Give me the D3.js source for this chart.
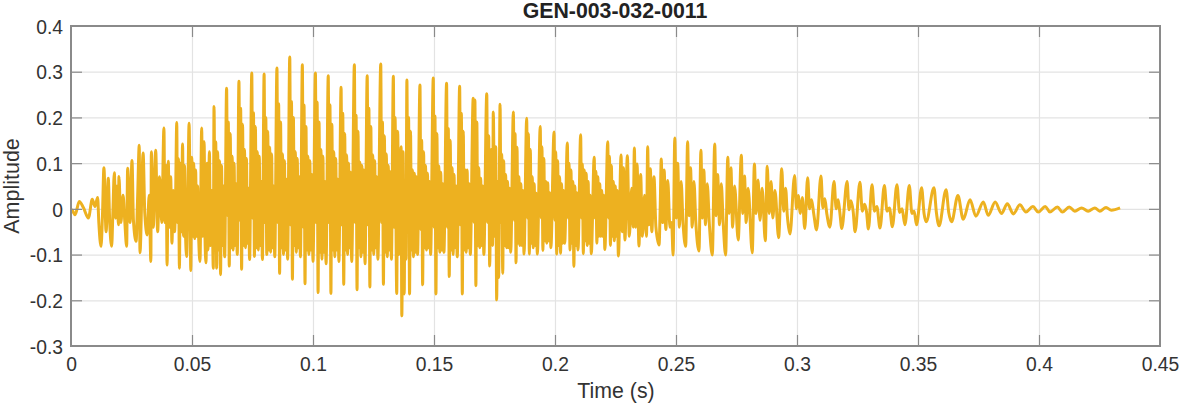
<!DOCTYPE html>
<html><head><meta charset="utf-8">
<style>html,body{margin:0;background:#fff}svg{display:block}text{font-family:"Liberation Sans",Arial,sans-serif}</style>
<script src="https://cdn.jsdelivr.net/npm/d3@7"></script></head><body>
<svg id="c" width="1182" height="404"></svg>
<script>
const chartTitle = "GEN-003-032-0011";
const xTitle = "Time (s)";
const yTitle = "Amplitude";
const xTickValues = [0,0.05,0.1,0.15,0.2,0.25,0.3,0.35,0.4,0.45];
const xTickLabels = ["0","0.05","0.1","0.15","0.2","0.25","0.3","0.35","0.4","0.45"];
const yTickValues = [-0.3,-0.2,-0.1,0,0.1,0.2,0.3,0.4];
const yTickLabels = ["-0.3","-0.2","-0.1","0","0.1","0.2","0.3","0.4"];
// One row per glottal pulse: times in ms
const timeMs = [
[0,0.6,1.7,3.4,5.1,7.2,8.8,9.9,11.0,11.5,12.4,13.0],
[13.6,14.5,15.4,16.0,16.8,17.3],
[17.9,18.5,19.0,19.6,19.8,20.6,21.5,22.2,23.0],
[23.4,24.4,25.2,25.8,26.9,27.5],
[28.2,28.5,29.8,30.5,31.5,32.3],
[33.0,33.2,34.0,35.0,35.8,36.6,37.5],
[38.4,38.8,39.3,39.7,40.2,40.7,41.2,41.7,42.3,42.8,43.2],
[43.7,44.0,44.4,44.8,45.2,45.6,46.1,46.5,46.9,47.3,47.8,48.3],
[48.8,49.2,49.5,49.9,50.3,50.7,51.1,51.5,51.9,52.3,52.8,53.3],
[54.0,54.4,55.0,55.4,55.8,56.2,56.6,57.2,57.6,58.2,58.8],
[59.1,59.5,59.8,60.2,60.6,61.0,61.4,61.8,62.2,62.6,63.0,63.5],
[64.3,64.7,65.0,65.4,65.8,66.2,66.6,67.0,67.4,67.8,68.2,68.7],
[69.4,69.8,70.1,70.5,70.9,71.3,71.7,72.1,72.5,72.9,73.3,73.8],
[74.7,75.1,75.4,75.8,76.2,76.6,77.0,77.4,77.8,78.2,78.6,79.1],
[79.8,80.2,80.5,80.9,81.3,81.7,82.1,82.5,82.9,83.3,83.7,84.2],
[85.1,85.5,85.8,86.2,86.6,87.0,87.4,87.8,88.2,88.6,89.0,89.5],
[90.4,90.8,91.1,91.5,91.9,92.3,92.7,93.1,93.5,93.9,94.3,94.8],
[95.6,96.0,96.3,96.7,97.1,97.5,97.9,98.3,98.7,99.1,99.5,100.0],
[101.0,101.4,101.7,102.1,102.5,102.9,103.3,103.7,104.1,104.5,104.9,105.4],
[106.3,106.7,107.0,107.4,107.8,108.2,108.6,109.0,109.4,109.8,110.2,110.7],
[111.6,112.0,112.3,112.7,113.1,113.5,113.9,114.3,114.7,115.1,115.5,116.0],
[117.1,117.5,117.8,118.2,118.6,119.0,119.4,119.8,120.2,120.6,121.0,121.5],
[122.4,122.8,123.1,123.5,123.9,124.3,124.7,125.1,125.5,125.9,126.3,126.8],
[128.0,128.4,128.7,129.1,129.5,129.9,130.3,130.7,131.1,131.5,131.9,132.4],
[133.2,133.6,133.9,134.6,135.0,135.5,136.4,136.7,137.2,137.7,138.0,138.4],
[138.8,139.2,139.5,139.9,140.3,140.7,141.1,141.5,141.9,142.3,142.7,143.2],
[144.2,144.6,144.9,145.3,145.7,146.1,146.5,146.9,147.3,147.7,148.1,148.6],
[149.7,150.1,150.4,150.8,151.2,151.6,152.0,152.4,152.8,153.2,153.6,154.1],
[155.2,155.6,155.9,156.3,156.7,157.1,157.5,157.9,158.3,158.7,159.1,159.6],
[160.6,161.0,161.3,161.7,162.1,162.5,162.9,163.3,163.7,164.1,164.5,165.0],
[166.2,166.6,166.9,167.3,167.7,168.1,168.5,168.9,169.3,169.7,170.1,170.6],
[171.8,172.2,172.6,173.0,173.6,174.2,174.5,175.1,175.5,175.9,176.3,176.7],
[177.3,177.7,178.0,178.4,178.8,179.2,179.6,180.0,180.4,180.8,181.2,181.7],
[182.8,183.2,183.5,183.9,184.3,184.7,185.1,185.5,185.9,186.3,186.7,187.2],
[188.3,188.7,189.0,189.4,189.8,190.2,190.6,191.0,191.4,191.8,192.2,192.7],
[193.9,194.3,194.6,195.0,195.4,195.8,196.2,196.6,197.0,197.4,197.8,198.3],
[199.6,200.0,200.3,200.7,201.1,201.5,201.9,202.3,202.7,203.1,203.5,204.0],
[205.1,205.5,205.8,206.2,206.6,207.0,207.4,207.8,208.2,208.6,209.0,209.5],
[210.6,211.0,211.3,211.7,212.1,212.5,212.9,213.3,213.7,214.1,214.5,215.0],
[216.2,216.6,216.9,217.3,217.7,218.1,218.5,218.9,219.3,219.7,220.1,220.6],
[221.8,222.2,222.5,222.9,223.3,223.7,224.1,224.5,224.9,225.3,225.7,226.2],
[227.3,227.8,228.3,228.9,229.9,230.7,231.7,232.3],
[232.8,233.3,233.9,234.7,235.4,236.1,237.0,237.8],
[238.3,238.8,239.4,240.0,240.9,241.7,243.0,243.5],
[243.9,244.5,245.1,245.8,246.6,247.5,248.2,248.8],
[249.5,250.1,250.7,251.4,252.1,252.9,254.0],
[254.8,255.4,256.0,256.7,257.4,258.2,259.5],
[260.3,260.9,261.5,262.2,262.9,263.8,265.0],
[266.0,266.6,267.2,268.0,268.7,269.5,270.5],
[271.4,272.0,272.7,273.4,274.2,275.7],
[277.0,277.6,278.3,279.0,279.8,281.5],
[282.4,283.1,283.9,284.7,285.6,286.9],
[287.7,288.5,289.3,290.0,290.9,292.4],
[293.7,294.5,295.3,296.0,297.1],
[299.0,299.8,300.5,301.4,302.2,303.2],
[304.4,305.2,306.0,306.9,308.1],
[309.9,310.7,311.5,312.3,313.6],
[315.3,316.2,317.0,317.7,318.5],
[320.7,321.5,322.3,323.2,324.0],
[326.0,327.0,327.9,328.7,329.5],
[331.0,332.0,333.0,334.3],
[336.1,337.2,338.2,339.4],
[341.3,342.4,343.4,344.6],
[346.4,347.5,348.4,349.4],
[351.5,352.5,353.4,354.3],
[356.6,357.6,358.7],
[361.6,362.7,363.9],
[366.5,368.7],
[371.5,373.9],
[377.0,379.0],
[381.9,384.5],
[386.9,389.4],
[392.1,394.6],
[397.5,399.7],
[402.6,404.5],
[407.6,409.7],
[412.5,414.8],
[417.6,420.3],
[423.1,425.1],
[427.7,429.9],
[433.5]
];
// Amplitudes matching timeMs, in thousandths
const ampMilli = [
[-1,-4,-13,16,3,-20,21,5,25,-30,-82,-15],
[90,-50,67,-30,-82,-10],
[79,-20,50,-35,71,-30,30,-25,-82],
[89,-30,106,-25,-71,20],
[139,-96,122,-10,-57,30],
[-115,125,-40,128,-50,70,-30],
[177,-30,95,-123,104,-40,70,-75,40,-50,20],
[189,-30,110,-130,100,-50,142,-60,95,-50,-104,40],
[187,10,-135,113,-60,100,-65,85,-60,50,-70,-115],
[177,-60,147,-70,-118,100,-90,125,-80,40,-130],
[224,-20,147,-130,125,-90,105,-144,95,-80,50,-105],
[264,-15,190,-125,165,-85,115,-90,100,-80,55,-100],
[279,-25,220,-132,185,-80,130,-85,110,-75,45,-111],
[297,-20,210,-104,180,-85,125,-90,115,-80,60,-111],
[295,-30,200,-100,170,-90,135,-95,120,-85,50,-105],
[308,-30,230,-141,190,-85,120,-100,105,-90,65,-110],
[332,-35,235,-154,200,-80,125,-95,110,-85,70,-105],
[315,-40,227,-164,180,-90,115,-100,105,-90,75,-115],
[297,-30,234,-183,190,-95,130,-110,115,-95,60,-120],
[291,-30,228,-185,185,-90,125,-105,110,-90,65,-115],
[266,-35,209,-165,165,-90,118,-100,100,-85,80,-115],
[315,-30,205,-177,170,-85,102,-105,95,-95,85,-120],
[291,-35,220,-171,180,-90,118,-100,105,-85,70,-110],
[317,-30,190,-165,160,-95,120,-105,95,-90,81,-110],
[290,-40,200,-185,170,-100,136,-234,125,-186,60,-110],
[282,-45,200,-186,170,-90,85,-105,78,-95,70,-100],
[271,-45,150,-166,125,-85,95,-90,78,-85,60,-100],
[286,-40,203,-186,165,-85,94,-95,80,-90,55,-95],
[275,-40,176,-148,150,-90,90,-100,75,-85,50,-105],
[268,-35,209,-186,170,-90,85,-95,85,-85,55,-100],
[242,-30,238,-168,190,-80,90,-85,67,-80,50,-100],
[252,-30,160,-125,130,-80,212,-60,136,-199,60,-150],
[229,-30,120,-141,105,-80,75,-85,60,-85,45,-95],
[212,-25,165,-118,135,-75,70,-80,55,-80,40,-99],
[198,-20,165,-99,130,-75,70,-85,55,-80,34,-99],
[180,-20,136,-91,110,-70,60,-75,57,-70,35,-85],
[168,-25,125,-99,105,-80,70,-97,55,-75,40,-75],
[144,-20,100,-90,85,-75,60,-126,50,-80,35,-90],
[162,-20,98,-98,85,-70,78,-80,60,-75,30,-98],
[113,-20,82,-75,70,-60,55,-60,40,-60,30,-89],
[147,-20,115,-80,95,-60,60,-70,50,-60,40,-103],
[118,-50,90,-68,116,-60,45,-40],
[133,-40,98,-81,75,-60,30,-60],
[136,-35,88,-50,70,-40,-79,10],
[109,-30,85,-45,62,-40,-30,-101],
[155,-20,100,-40,60,-30,-82],
[147,-15,90,-40,60,-30,-92],
[128,-20,85,-35,55,-35,-101],
[142,-15,75,-35,55,-30,-101],
[113,-10,90,-40,50,-68],
[117,-10,72,-30,45,-96],
[98,-10,63,-25,45,-70],
[93,-10,60,-20,40,-63],
[88,-5,45,-15,-55],
[73,0,29,-10,25,-43],
[68,0,20,-10,-46],
[72,2,22,-10,-40],
[60,0,20,-8,-43],
[60,-2,18,-5,-50],
[58,-5,10,-5,-44],
[53,-5,5,-42],
[51,-5,2,-39],
[53,-8,0,-35],
[51,-10,-5,-35],
[46,-10,-28],
[46,-8,-37],
[42,-8,-28],
[29,-23],
[20,-16],
[15,-14],
[15,-10],
[11,-11],
[9,-7],
[5,-7],
[5,-7],
[4,-7],
[4,-5],
[2,-5],
[2,-5],
[3,-3],
[2]
];

const plotLeft = 71, plotRight = 1160, plotTop = 26, plotBottom = 346;
const x = d3.scaleLinear().domain([0,0.45]).range([plotLeft,plotRight]);
const y = d3.scaleLinear().domain([-0.3,0.4]).range([plotBottom,plotTop]);
const svg = d3.select("#c");
const txt = "#333333", box = "#8a8a8a", gridC = "#e3e3e3";
const fx = d => xTickLabels[xTickValues.indexOf(d)];
const fy = d => yTickLabels[yTickValues.indexOf(d)];

// grid
svg.append("g").attr("transform",`translate(0,${plotBottom})`)
  .call(d3.axisBottom(x).tickValues(xTickValues.slice(1,-1)).tickSize(plotTop-plotBottom).tickFormat(""))
  .call(g=>g.select(".domain").remove()).selectAll("line").attr("stroke",gridC).attr("stroke-width",1.2);
svg.append("g").attr("transform",`translate(${plotLeft},0)`)
  .call(d3.axisLeft(y).tickValues(yTickValues.slice(1,-1)).tickSize(plotLeft-plotRight).tickFormat(""))
  .call(g=>g.select(".domain").remove()).selectAll("line").attr("stroke",gridC).attr("stroke-width",1.2);

// waveform
const pts = timeMs.flatMap((row,i)=>row.map((t,j)=>({t:t/1000,a:ampMilli[i][j]/1000})).filter(d=>Number.isFinite(d.a)));
svg.append("path").datum(pts)
  .attr("fill","none").attr("stroke","#EDB120").attr("stroke-width",3).attr("stroke-linejoin","round")
  .attr("d",d3.line().curve(d3.curveMonotoneX).x(d=>x(d.t)).y(d=>y(d.a)));

// mirrored inward ticks
const tick = 11;
function style(g){
  g.select(".domain").remove();
  g.selectAll(".tick line").attr("stroke",box).attr("stroke-width",1.2);
  g.selectAll(".tick text").attr("fill",txt).style("font-size","19.3px");
}
svg.append("g").attr("transform",`translate(0,${plotBottom})`)
  .call(d3.axisBottom(x).tickValues(xTickValues.slice(1,-1)).tickSize(-tick).tickFormat("")).call(style);
svg.append("g").attr("transform",`translate(0,${plotTop})`)
  .call(d3.axisTop(x).tickValues(xTickValues.slice(1,-1)).tickSize(-tick).tickFormat("")).call(style);
svg.append("g").attr("transform",`translate(${plotLeft},0)`)
  .call(d3.axisLeft(y).tickValues(yTickValues.slice(1,-1)).tickSize(-tick).tickFormat("")).call(style);
svg.append("g").attr("transform",`translate(${plotRight},0)`)
  .call(d3.axisRight(y).tickValues(yTickValues.slice(1,-1)).tickSize(-tick).tickFormat("")).call(style);
// labels
svg.append("g").attr("transform",`translate(0,${plotBottom})`)
  .call(d3.axisBottom(x).tickValues(xTickValues).tickSize(0).tickPadding(11).tickFormat(fx)).call(style);
svg.append("g").attr("transform",`translate(${plotLeft},1)`)
  .call(d3.axisLeft(y).tickValues(yTickValues).tickSize(0).tickPadding(8).tickFormat(fy)).call(style);
// box
svg.append("rect").attr("x",plotLeft).attr("y",plotTop).attr("width",plotRight-plotLeft).attr("height",plotBottom-plotTop)
  .attr("fill","none").attr("stroke",box).attr("stroke-width",2);

svg.append("text").attr("x",615).attr("y",18).attr("text-anchor","middle")
  .attr("font-weight","bold").attr("font-size",21.3).attr("fill","#222").text(chartTitle);
svg.append("text").attr("x",616).attr("y",398).attr("text-anchor","middle")
  .attr("font-size",21.3).attr("fill",txt).text(xTitle);
svg.append("text").attr("transform","translate(19,186) rotate(-90)").attr("text-anchor","middle")
  .attr("font-size",21.5).attr("fill",txt).text(yTitle);
</script></body></html>
